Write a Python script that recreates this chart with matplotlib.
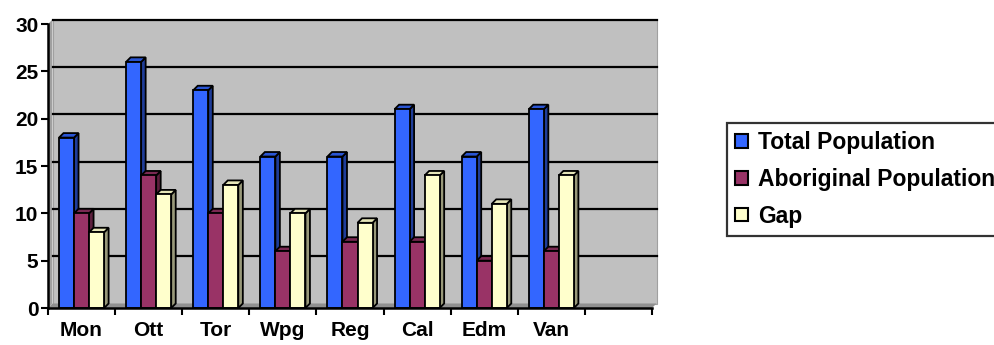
import numpy as np
import matplotlib.pyplot as plt
from matplotlib.patches import Polygon, Patch

plt.rcParams['font.family'] = ['Liberation Sans', 'DejaVu Sans']
plt.rcParams['font.weight'] = 'bold'

cities = ['Mon', 'Ott', 'Tor', 'Wpg', 'Reg', 'Cal', 'Edm', 'Van']
total_pop = [18, 26, 23, 16, 16, 21, 16, 21]
aboriginal_pop = [10, 14, 10, 6, 7, 7, 5, 6]
gap = [8, 12, 13, 10, 9, 14, 11, 14]

series = [('Total Population', total_pop, '#3366FF', '#1F3D99', '#2A55D4'),
          ('Aboriginal Population', aboriginal_pop, '#993366', '#5C1F3D', '#7A2952'),
          ('Gap', gap, '#FFFFCC', '#99997A', '#E6E6B8')]

n_slots = 9
ymax = 30

fig = plt.figure(figsize=(9.94, 3.45), dpi=100)
ax = fig.add_axes([48 / 994, 37 / 345, 604 / 994, 284 / 345])
ax.set_xlim(0, n_slots)
ax.set_ylim(0, ymax)

# depth of the fake 3d effect, in pixels -> data units
depth_px = 4.5
dx = depth_px * n_slots / 604
dy = depth_px * ymax / 284

# walls and floor
ax.add_patch(Polygon([(dx, dy), (n_slots + dx, dy), (n_slots + dx, ymax + dy), (dx, ymax + dy)],
                     closed=True, facecolor='#C0C0C0', edgecolor='#A0A0A0', lw=0.8,
                     clip_on=False, zorder=0))
ax.add_patch(Polygon([(0, 0), (dx, dy), (dx, ymax + dy), (0, ymax)],
                     closed=True, facecolor='#A0A0A0', edgecolor='none', clip_on=False, zorder=0))
ax.add_patch(Polygon([(0, 0), (n_slots, 0), (n_slots + dx, dy), (dx, dy)],
                     closed=True, facecolor='#909090', edgecolor='none', clip_on=False, zorder=0))

# gridlines on back wall
for v in range(5, ymax + 1, 5):
    ax.plot([dx, n_slots + dx], [v + dy, v + dy], color='black', lw=1.6,
            clip_on=False, zorder=1)

bw = 0.224
x = np.arange(len(cities)) + 0.5
for i, (name, vals, front, side, top) in enumerate(series):
    for xc, h in zip(x, vals):
        x0 = xc - 1.5 * bw + i * bw
        x1 = x0 + bw
        z = 2 + i
        ax.add_patch(Polygon([(x1, 0), (x1 + dx, dy), (x1 + dx, h + dy), (x1, h)],
                             closed=True, facecolor=side, edgecolor='black', lw=1.3,
                             clip_on=False, zorder=z))
        ax.add_patch(Polygon([(x0, h), (x0 + dx, h + dy), (x1 + dx, h + dy), (x1, h)],
                             closed=True, facecolor=top, edgecolor='black', lw=1.3,
                             clip_on=False, zorder=z))
        ax.add_patch(Polygon([(x0, 0), (x1, 0), (x1, h), (x0, h)],
                             closed=True, facecolor=front, edgecolor='black', lw=1.3,
                             clip_on=False, zorder=z))

for s in ['top', 'right']:
    ax.spines[s].set_visible(False)
for s in ['left', 'bottom']:
    ax.spines[s].set_linewidth(1.8)
    ax.spines[s].set_zorder(10)
ax.patch.set_visible(False)

ax.set_yticks(range(0, ymax + 1, 5))
ax.set_xticks(np.arange(n_slots + 1), minor=False)
ax.set_xticklabels([])
ax.set_xticks(x, minor=True)
ax.set_xticklabels(cities, minor=True)
ax.tick_params(axis='x', which='major', direction='out', length=5, width=1.5)
ax.tick_params(axis='x', which='minor', length=0, pad=9, labelsize=15)
ax.tick_params(axis='y', direction='out', length=5, width=1.5, labelsize=15, pad=2)
for lab in ax.get_xticklabels(minor=True) + ax.get_yticklabels():
    lab.set_fontweight('bold')

handles = [Patch(facecolor=c, edgecolor='black', lw=1.5) for _, _, c, _, _ in series]
leg = fig.legend(handles, [s[0] for s in series], loc='upper left',
                 bbox_to_anchor=(727 / 994, 1 - 123 / 345), frameon=True, fancybox=False,
                 prop={'weight': 'bold', 'size': 16.5}, handlelength=0.55, handleheight=0.55,
                 handletextpad=0.45, borderpad=0.35, labelspacing=0.6, borderaxespad=0)
leg.get_frame().set_edgecolor('black')
leg.get_frame().set_linewidth(1.6)

fig.savefig('out.png', dpi=100)
